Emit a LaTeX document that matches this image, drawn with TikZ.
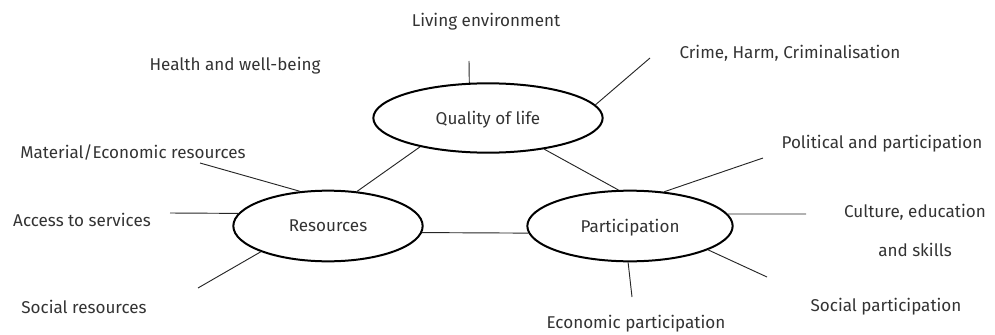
\documentclass[tikz,border=0pt]{standalone}
\usepackage{fontspec}
\setmainfont{Fira Sans}
\usepackage{tikz}
\usetikzlibrary{shapes.geometric,positioning}

\tikzset{
  hub/.style = {ellipse, draw, line width=1.5pt, inner sep=0pt, text=black!80, text depth=0pt},
  item/.style = {inner sep=0pt, text=black!80, yshift=-1.5pt},
  spoke/.style = {draw=black!85, line width=0.7pt}
}

\begin{document}
\begin{tikzpicture}[x=0.75pt, y=-0.75pt, font=\fontsize{12.8}{15}\selectfont]
        \useasboundingbox (0,0) rectangle (995,335);

        % the three hubs
        \node[hub, minimum width=172pt, minimum height=52pt] (qol) at (488,118) {Quality of life};
        \node[hub, minimum width=142pt, minimum height=53pt] (res) at (328,226) {Resources};
        \node[hub, minimum width=154pt, minimum height=53pt] (par) at (630,226) {Participation};

        % labels
        \node[item] (living) at (486,20) {Living environment};
        \node[item] (health) at (235,64) {Health and well-being};
        \node[item] (crime) at (790,51) {Crime, Harm, Criminalisation};
        \node[item] (material) at (133,150) {Material/Economic resources};
        \node[item] (access) at (82,218) {Access to services};
        \node[item] (socres) at (84,305) {Social resources};
        \node[item] (political) at (882,142) {Political and participation};
        \node[item] (culture) at (915,210) {Culture, education};
        \node[item] (skills) [below=27pt of culture.center, anchor=center] {and skills};
        \node[item] (socpar) at (886,305) {Social participation};
        \node[item] (econ) at (636,322) {Economic participation};

        % free ends of the spokes
        \coordinate (e-living) at (469,61);
        \coordinate (e-crime) at (650,58);
        \coordinate (e-material) at (200,163);
        \coordinate (e-access) at (170,213);
        \coordinate (e-socres) at (198,288);
        \coordinate (e-political) at (763,158);
        \coordinate (e-culture) at (806,214);
        \coordinate (e-socpar) at (767,277);
        \coordinate (e-econ) at (632,297);

        % hub to hub
        \draw[spoke] (qol.203) -- (res.50);
        \draw[spoke] (qol.331) -- (par.108);
        \draw[spoke] (res.356) -- (par.184);

        % spokes
        \draw[spoke] (e-living) -- (qol.118);
        \draw[spoke] (e-crime) -- (qol.7);
        \draw[spoke] (e-material) -- (res.129);
        \draw[spoke] (e-access) -- (res.172);
        \draw[spoke] (e-socres) -- (res.201);
        \draw[spoke] (e-political) -- (par.45);
        \draw[spoke] (e-culture) -- (par.7);
        \draw[spoke] (e-socpar) -- (par.343);
        \draw[spoke] (e-econ) -- (par.267);
      \end{tikzpicture}
\end{document}
